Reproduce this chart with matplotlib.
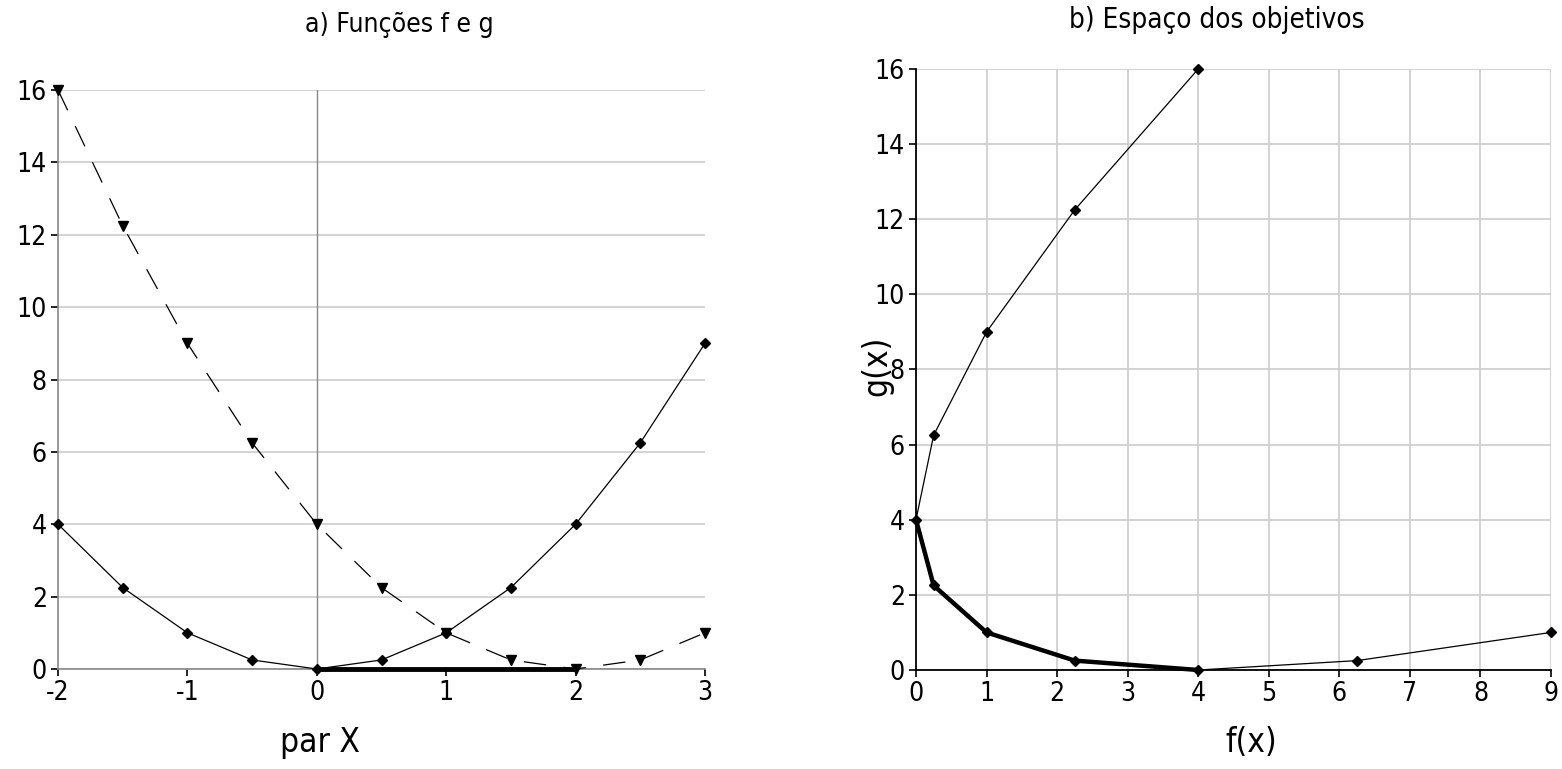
import matplotlib
matplotlib.use("Agg")
import matplotlib.pyplot as plt
import numpy as np

# Data
x_vals = [-2, -1.5, -1, -0.5, 0, 0.5, 1, 1.5, 2, 2.5, 3]
f_vals = [4, 2.25, 1, 0.25, 0, 0.25, 1, 2.25, 4, 6.25, 9]
g_vals = [16, 12.25, 9, 6.25, 4, 2.25, 1, 0.25, 0, 0.25, 1]
pareto_x = [0, 2]
pareto_y = [0, 0]
front_f = [0, 0.25, 1, 2.25, 4]
front_g = [4, 2.25, 1, 0.25, 0]
yticks = [0, 2, 4, 6, 8, 10, 12, 14, 16]
xticks_a = [-2, -1, 0, 1, 2, 3]
xticks_b = [0, 1, 2, 3, 4, 5, 6, 7, 8, 9]

plt.rcParams['font.family'] = ['DejaVu Sans']
plt.rcParams['axes.unicode_minus'] = False
FS = dict(fontstretch='condensed')
TICK_FS = 19
LAB_FS = 24

fig = plt.figure(figsize=(15.62, 7.69), dpi=100)

# Panel a
ax1 = fig.add_axes([58/1562, 1-669/769, (705-58)/1562, (669-90)/769])
ax1.set_xlim(-2, 3)
ax1.set_ylim(0, 16)
ax1.set_yticks(yticks)
ax1.set_xticks(xticks_a)
ax1.yaxis.grid(True, color='#cccccc', lw=1.2)
ax1.set_axisbelow(True)
for s in ['top', 'right']:
    ax1.spines[s].set_visible(False)
for s in ['left', 'bottom']:
    ax1.spines[s].set_color('#888888')
    ax1.spines[s].set_linewidth(1.2)
ax1.axvline(0, color='#888888', lw=1.0, zorder=1)
ax1.plot(x_vals, f_vals, color='black', lw=0.9, marker='D', ms=5, zorder=3, clip_on=False)
ax1.plot(x_vals, g_vals, color='black', lw=0.9, ls=(0, (18, 14)), marker='v', ms=7.5, zorder=3, clip_on=False)
ax1.plot(pareto_x, pareto_y, color='black', lw=3.5, solid_capstyle='butt', zorder=4, clip_on=False)
ax1.tick_params(direction='out', length=5, width=1.2, color='black', labelsize=TICK_FS, pad=3)
for lab in ax1.get_xticklabels() + ax1.get_yticklabels():
    lab.set_fontstretch('condensed')
fig.text(399/1562, 1-25/769, 'a) Funções f e g', fontsize=TICK_FS, ha='center', va='center', **FS)
ax1.set_xlabel('par X', fontsize=LAB_FS, **FS)
ax1.xaxis.set_label_coords((320-58)/(705-58), -(726-669)/(669-90))

# Panel b
ax2 = fig.add_axes([916/1562, 1-670/769, (1551-916)/1562, (670-69)/769])
ax2.set_xlim(0, 9)
ax2.set_ylim(0, 16)
ax2.set_xticks(xticks_b)
ax2.set_yticks(yticks)
ax2.grid(True, color='#cccccc', lw=1.2)
ax2.set_axisbelow(True)
for s in ['top', 'right']:
    ax2.spines[s].set_visible(False)
for s in ['left', 'bottom']:
    ax2.spines[s].set_color('black')
    ax2.spines[s].set_linewidth(1.3)
ax2.plot(f_vals, g_vals, color='black', lw=0.9, marker='D', ms=5, zorder=3, clip_on=False)
ax2.plot(front_f, front_g, color='black', lw=3.2, zorder=4, clip_on=False)
ax2.tick_params(direction='out', length=5, width=1.2, color='black', labelsize=TICK_FS, pad=3)
for lab in ax2.get_xticklabels() + ax2.get_yticklabels():
    lab.set_fontstretch('condensed')
fig.text(1217/1562, 1-20/769, 'b) Espaço dos objetivos', fontsize=TICK_FS + 1, ha='center', va='center', **FS)
ax2.set_xlabel('f(x)', fontsize=LAB_FS, **FS)
ax2.xaxis.set_label_coords((1251-916)/(1551-916), -(726-670)/(670-69))
ax2.set_ylabel('g(x)', fontsize=LAB_FS, **FS)
ax2.yaxis.set_label_coords(-0.036, 1-(366-69)/(670-69))

fig.savefig('out.png', dpi=100)
